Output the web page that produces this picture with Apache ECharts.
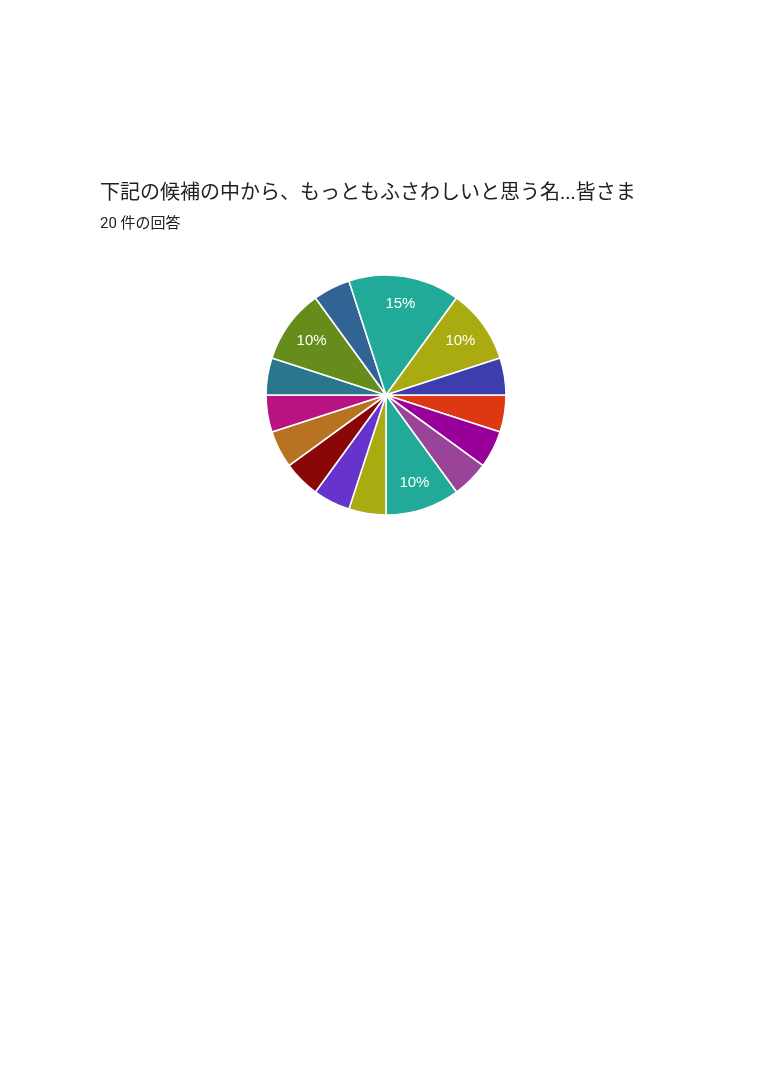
<!DOCTYPE html>
<html>
<head>
<meta charset="utf-8">
<script src="https://cdn.jsdelivr.net/npm/echarts@6/dist/echarts.min.js"></script>
<style>
html,body{margin:0;padding:0;background:#fff;}
#chart{width:768px;height:1086px;}
</style>
</head>
<body>
<div id="chart"></div>
<script>
// Slices listed clockwise starting at 3 o'clock
const categories = ['候補1','候補2','候補3','候補4','候補5','候補6','候補7','候補8','候補9','候補10','候補11','候補12','候補13','候補14','候補15'];
const counts = [1,1,1,2,1,1,1,1,1,1,2,1,3,2,1];
const colors = ['#dc3912','#990099','#994499','#22aa99','#aaaa11','#6633cc','#8b0707','#b77322','#b91383','#2a778d','#668d1c','#316395','#22aa99','#aaaa11','#3b3eac'];
const titleText = '下記の候補の中から、もっともふさわしいと思う名...皆さま';
const subText = '20 件の回答';

const data = categories.map((c,i)=>({name:c,value:counts[i],itemStyle:{color:colors[i]}}));
const fontFam = 'Roboto, "Noto Sans CJK JP", sans-serif';

const chart = echarts.init(document.getElementById('chart'));
chart.setOption({
  backgroundColor:'#fff',
  animation:false,
  title:{
    text:titleText,
    subtext:subText,
    left:95, top:179,
    itemGap:13,
    textStyle:{fontSize:20,fontWeight:'normal',color:'#212121',fontFamily:fontFam},
    subtextStyle:{fontSize:15,color:'#212121',fontFamily:fontFam}
  },
  series:[
    {
      type:'pie',
      center:[386,395],
      radius:[0,120],
      startAngle:0,
      clockwise:true,
      data:data,
      silent:true,
      itemStyle:{borderColor:'#fff',borderWidth:1.6},
      label:{show:false},
      labelLine:{show:false}
    },
    {
      type:'pie',
      center:[386,395],
      radius:[58,120],
      startAngle:0,
      clockwise:true,
      data:data.map(d=>({name:d.name,value:d.value})),
      silent:true,
      itemStyle:{color:'rgba(0,0,0,0)',borderWidth:0},
      label:{
        show:true,position:'inside',color:'#fff',fontSize:15,fontFamily:'Arial, "Liberation Sans", sans-serif',
        formatter:p=>p.percent>=10?Math.round(p.percent)+'%':''
      },
      labelLine:{show:false}
    }
  ]
});
</script>
</body>
</html>
